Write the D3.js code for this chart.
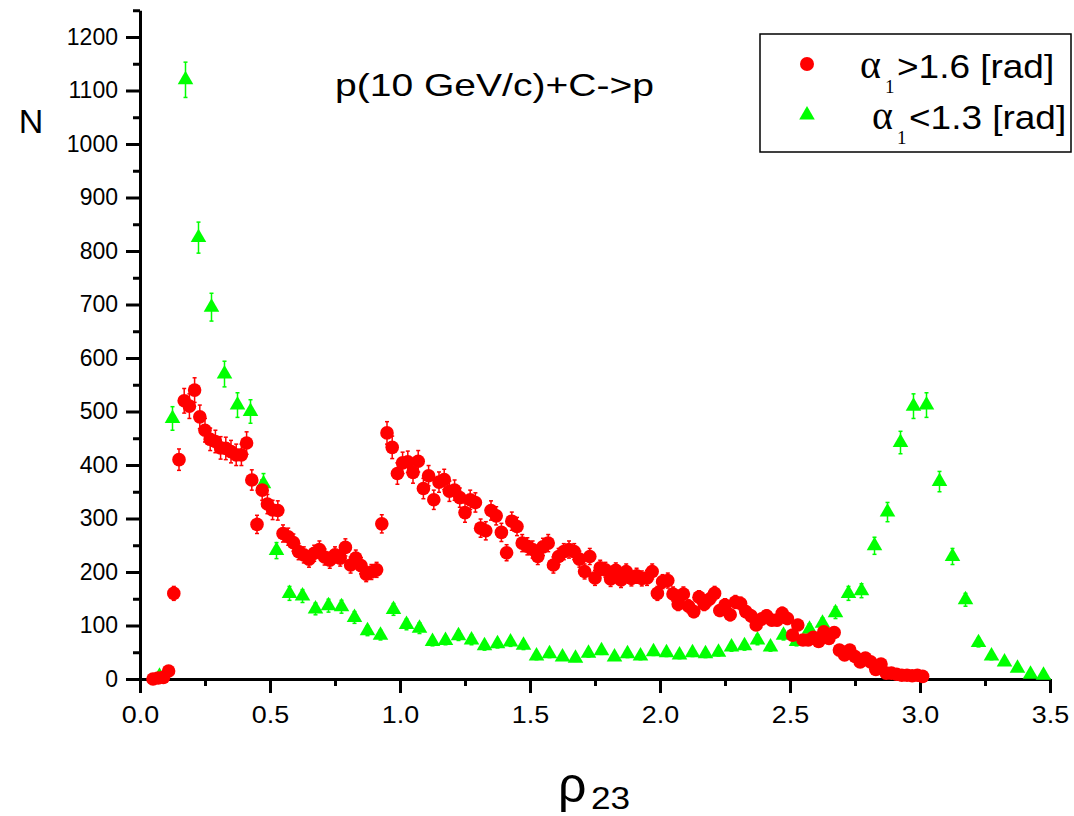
<!DOCTYPE html>
<html>
<head>
<meta charset="utf-8">
<script src="https://cdn.jsdelivr.net/npm/d3@7"></script>
<style>
  body { margin: 0; background: #fff; }
  svg { display: block; }
  text { font-family: "Liberation Sans", Arial, sans-serif; fill: #000; }
  .axis path, .axis line { stroke: #000; stroke-width: 3; }
</style>
</head>
<body>
<script>
var width = 1074, height = 816;

// red: alpha1 > 1.6 rad, bins of 0.02
var redX = [0.05,0.07,0.09,0.11,0.13,0.15,0.17,0.19,0.21,0.23,0.25,0.27,0.29,0.31,0.33,0.35,0.37,0.39,0.41,0.43,
  0.45,0.47,0.49,0.51,0.53,0.55,0.57,0.59,0.61,0.63,0.65,0.67,0.69,0.71,0.73,0.75,0.77,0.79,0.81,0.83,
  0.85,0.87,0.89,0.91,0.93,0.95,0.97,0.99,1.01,1.03,1.05,1.07,1.09,1.11,1.13,1.15,1.17,1.19,1.21,1.23,
  1.25,1.27,1.29,1.31,1.33,1.35,1.37,1.39,1.41,1.43,1.45,1.47,1.49,1.51,1.53,1.55,1.57,1.59,1.61,1.63,
  1.65,1.67,1.69,1.71,1.73,1.75,1.77,1.79,1.81,1.83,1.85,1.87,1.89,1.91,1.93,1.95,1.97,1.99,2.01,2.03,
  2.05,2.07,2.09,2.11,2.13,2.15,2.17,2.19,2.21,2.23,2.25,2.27,2.29,2.31,2.33,2.35,2.37,2.39,2.41,2.43,
  2.45,2.47,2.49,2.51,2.53,2.55,2.57,2.59,2.61,2.63,2.65,2.67,2.69,2.71,2.73,2.75,2.77,2.79,2.81,2.83,
  2.85,2.87,2.89,2.91,2.93,2.95,2.97,2.99,3.01];
var redN = [0,2,3,15,160,410,520,510,540,490,465,448,444,432,431,425,419,419,441,372,
  289,353,327,316,315,272,266,255,238,232,224,235,242,228,222,232,226,246,213,226,
  212,196,200,204,290,460,433,384,404,406,386,407,356,380,335,368,373,351,353,339,
  311,335,330,282,277,315,305,274,236,295,285,254,248,242,229,247,254,213,229,238,
  242,238,224,201,229,189,208,204,187,203,185,201,188,193,188,189,201,160,182,184,
  159,140,159,136,126,153,140,149,160,128,138,120,144,141,126,118,101,112,118,110,
  110,123,113,82,101,73,73,78,70,88,76,87,54,45,54,42,32,39,32,18,
  28,11,11,9,7,7,6,7,5];
var redErr = [1,1,2,4,13,20,23,23,23,22,22,21,21,21,21,21,20,20,21,19,
  17,19,18,18,18,16,16,16,15,15,15,15,16,15,15,15,15,16,15,15,
  15,14,14,14,17,21,21,20,20,20,20,20,19,19,18,19,19,19,19,18,
  18,18,18,17,17,18,17,17,15,17,17,16,16,16,15,16,16,15,15,15,
  16,15,15,14,15,14,14,14,14,14,14,14,14,14,14,14,14,13,13,14,
  13,12,13,12,11,12,12,12,13,11,12,11,12,12,11,11,10,11,11,10,
  10,11,11,9,10,9,9,9,8,9,9,9,7,7,7,6,6,6,6,4,
  5,3,3,3,3,3,2,3,2];

// green: alpha1 < 1.3 rad, bins of 0.05
var greenX = [0.075,0.125,0.175,0.225,0.275,0.325,0.375,0.425,0.475,0.525,0.575,0.625,0.675,0.725,0.775,0.825,0.875,0.925,0.975,1.025,
  1.075,1.125,1.175,1.225,1.275,1.325,1.375,1.425,1.475,1.525,1.575,1.625,1.675,1.725,1.775,1.825,1.875,1.925,1.975,2.025,
  2.075,2.125,2.175,2.225,2.275,2.325,2.375,2.425,2.475,2.525,2.575,2.625,2.675,2.725,2.775,2.825,2.875,2.925,2.975,3.025,
  3.075,3.125,3.175,3.225,3.275,3.325,3.375,3.425,3.475];
var greenN = [5,487,1120,825,695,570,512,500,365,240,160,155,131,137,135,115,90,82,130,102,
  95,70,72,81,73,62,66,69,63,43,47,41,39,48,53,41,47,43,51,49,
  45,49,47,50,60,62,73,60,82,70,93,104,124,160,165,249,312,442,510,512,
  369,229,148,68,43,32,20,9,7];
var greenErr = [2,22,33,29,26,24,23,22,19,15,13,12,11,12,12,11,9,9,11,10,
  10,8,8,9,9,8,8,8,8,7,7,6,6,7,7,6,7,7,7,7,
  7,7,7,7,8,8,9,8,9,8,10,10,11,13,13,16,18,21,23,23,
  19,15,12,8,7,6,4,3,3];

var xTicks = [0, 0.5, 1.0, 1.5, 2.0, 2.5, 3.0, 3.5];
var yTicks = [0, 100, 200, 300, 400, 500, 600, 700, 800, 900, 1000, 1100, 1200];

var svg = d3.select("body").append("svg")
  .attr("width", width)
  .attr("height", height);

var x = d3.scaleLinear().domain([0, 3.5]).range([140, 1050]);
var y = d3.scaleLinear().domain([0, 1250]).range([679, 10.25]);

// stretch text horizontally to mimic the wide glyphs of the original
function stretch(sel, k) {
  sel.each(function () {
    var w = this.getComputedTextLength();
    d3.select(this).attr("textLength", w * k).attr("lengthAdjust", "spacingAndGlyphs");
  });
}

// minor ticks first
svg.append("g")
  .attr("class", "axis")
  .attr("transform", "translate(0,679)")
  .call(d3.axisBottom(x).tickValues(d3.range(0.25, 3.5, 0.5)).tickSize(7).tickFormat(""))
  .select(".domain").remove();
svg.append("g")
  .attr("class", "axis")
  .attr("transform", "translate(140,0)")
  .call(d3.axisLeft(y).tickValues(d3.range(50, 1300, 100)).tickSize(7).tickFormat(""))
  .select(".domain").remove();

var xAxis = svg.append("g")
  .attr("class", "axis")
  .attr("transform", "translate(0,679)")
  .call(d3.axisBottom(x).tickValues(xTicks).tickSize(14).tickSizeOuter(0).tickFormat(d3.format(".1f")));
xAxis.selectAll("text")
  .attr("y", 27)
  .attr("dy", "0.71em")
  .style("font-size", "24px");

var yAxis = svg.append("g")
  .attr("class", "axis")
  .attr("transform", "translate(140,0)")
  .call(d3.axisLeft(y).tickValues(yTicks).tickSize(14).tickSizeOuter(0).tickFormat(d3.format("d")));
yAxis.selectAll("text")
  .attr("x", -22)
  .style("font-size", "23px");

stretch(xAxis.selectAll("text"), 1.12);

var red = redX.map(function (d, i) { return { x: d, n: redN[i], e: redErr[i] }; });
var green = greenX.map(function (d, i) { return { x: d, n: greenN[i], e: greenErr[i] }; });

function errorBars(data, color) {
  var g = svg.append("g").attr("stroke", color).attr("stroke-width", 1.5);
  g.selectAll("line.v").data(data).enter().append("line")
    .attr("x1", function (d) { return x(d.x); })
    .attr("x2", function (d) { return x(d.x); })
    .attr("y1", function (d) { return y(d.n - d.e); })
    .attr("y2", function (d) { return y(d.n + d.e); });
  g.selectAll("line.t").data(data).enter().append("line")
    .attr("x1", function (d) { return x(d.x) - 2; })
    .attr("x2", function (d) { return x(d.x) + 2; })
    .attr("y1", function (d) { return y(d.n + d.e); })
    .attr("y2", function (d) { return y(d.n + d.e); });
  g.selectAll("line.b").data(data).enter().append("line")
    .attr("x1", function (d) { return x(d.x) - 2; })
    .attr("x2", function (d) { return x(d.x) + 2; })
    .attr("y1", function (d) { return y(d.n - d.e); })
    .attr("y2", function (d) { return y(d.n - d.e); });
}

errorBars(green, "#00ff00");
errorBars(red, "#ff0000");

var tri = d3.symbol().type(d3.symbolTriangle).size(105);

svg.append("g").selectAll("path")
  .data(green).enter().append("path")
  .attr("d", tri)
  .attr("transform", function (d) { return "translate(" + x(d.x) + "," + y(d.n) + ")"; })
  .attr("fill", "#00ff00");

svg.append("g").selectAll("circle")
  .data(red).enter().append("circle")
  .attr("cx", function (d) { return x(d.x); })
  .attr("cy", function (d) { return y(d.n); })
  .attr("r", 6.8)
  .attr("fill", "#ff0000");

// title
var title = svg.append("text")
  .attr("x", 335).attr("y", 96)
  .style("font-size", "32px")
  .text("p(10 GeV/c)+C->p");
stretch(title, 1.22);

// axis titles
svg.append("text")
  .attr("x", 31).attr("y", 133)
  .attr("text-anchor", "middle")
  .style("font-size", "34px")
  .text("N");

svg.append("text")
  .attr("x", 558).attr("y", 802)
  .style("font-size", "50px")
  .text("ρ");
var sub = svg.append("text")
  .attr("x", 591).attr("y", 809)
  .style("font-size", "32px")
  .text("23");
stretch(sub, 1.1);

// legend
svg.append("rect")
  .attr("x", 760).attr("y", 34)
  .attr("width", 311).attr("height", 118)
  .attr("fill", "none")
  .attr("stroke", "#000")
  .attr("stroke-width", 1.5);

var legend = [
  { label: ">1.6 [rad]", color: "#ff0000", shape: "circle", y: 64, ax: 860 },
  { label: "<1.3 [rad]", color: "#00ff00", shape: "triangle", y: 115, ax: 872 }
];

legend.forEach(function (d) {
  if (d.shape === "circle") {
    svg.append("circle").attr("cx", 807).attr("cy", d.y).attr("r", 7).attr("fill", d.color);
  } else {
    svg.append("path").attr("d", tri).attr("transform", "translate(807," + d.y + ")").attr("fill", d.color);
  }
  svg.append("text")
    .attr("x", d.ax).attr("y", d.y + 14)
    .style("font-family", "'Liberation Serif', 'Times New Roman', serif")
    .style("font-size", "40px")
    .text("α");
  svg.append("text")
    .attr("x", d.ax + 25).attr("y", d.y + 29)
    .style("font-family", "'Liberation Serif', 'Times New Roman', serif")
    .style("font-size", "19px")
    .text("1");
  var t = svg.append("text")
    .attr("x", d.ax + 37).attr("y", d.y + 14)
    .style("font-size", "33px")
    .text(d.label);
  stretch(t, 1.12);
});
</script>
</body>
</html>
